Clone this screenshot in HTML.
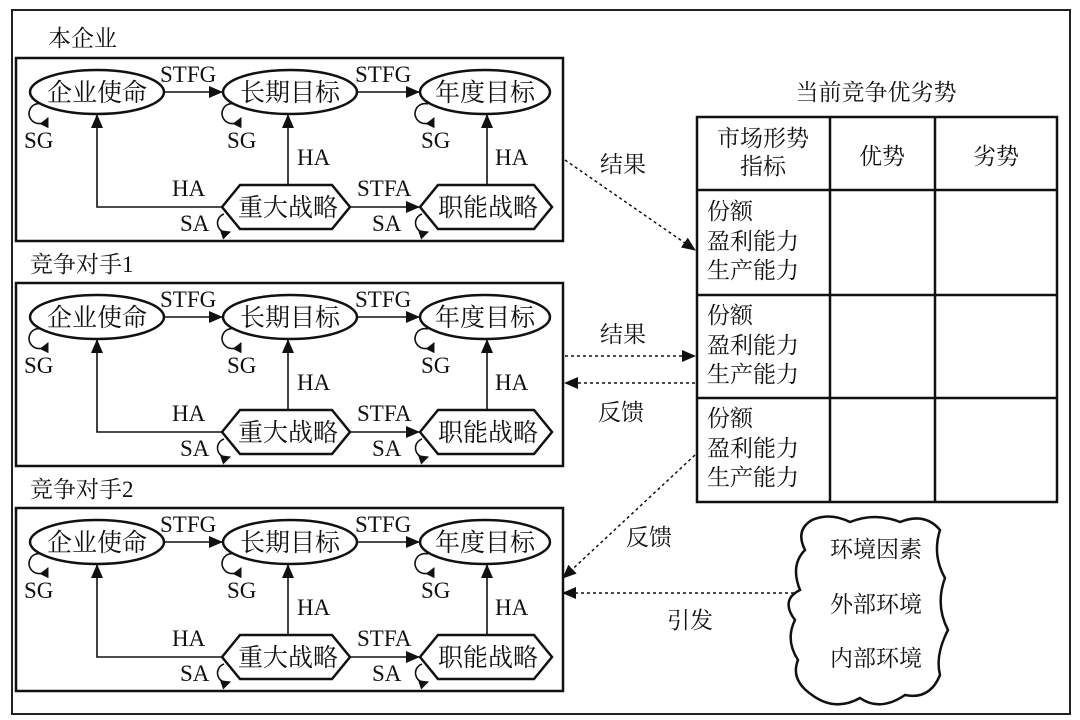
<!DOCTYPE html>
<html><head><meta charset="utf-8"><style>
body{margin:0;background:#fff}
svg{display:block}
text{font-family:"Liberation Serif","Noto Serif CJK SC",serif;fill:#111}
.c{font-family:"Liberation Serif","Noto Serif CJK SC",serif}
</style></head><body>
<svg width="1080" height="720" viewBox="0 0 1080 720" xmlns="http://www.w3.org/2000/svg">
<defs>
<marker id="a" markerWidth="10" markerHeight="10" refX="9" refY="5" orient="auto" markerUnits="userSpaceOnUse"><path d="M0,0 L10,5 L0,10 z" fill="#111"/></marker>
<marker id="b" markerWidth="14" markerHeight="12" refX="13" refY="6" orient="auto" markerUnits="userSpaceOnUse"><path d="M0,0 L14,6 L0,12 z" fill="#111"/></marker>
<g id="dummy"></g>
</defs>
<rect x="12" y="10" width="1058" height="704" fill="none" stroke="#222" stroke-width="2"/>
<text class="c" x="48" y="46" font-size="23">本企业</text>
<text class="c" x="30" y="272" font-size="23">竞争对手1</text>
<text class="c" x="30" y="497" font-size="23">竞争对手2</text>

<g>
<rect x="16" y="58" width="547" height="183" fill="none" stroke="#111" stroke-width="2.5"/>
<g fill="#fff" stroke="#111" stroke-width="2.5">
<ellipse cx="97" cy="92" rx="67" ry="22"/><ellipse cx="290" cy="92" rx="67" ry="22"/><ellipse cx="485" cy="92" rx="65" ry="22"/>
<polygon points="222,207 240,185 332,185 350,207 332,229 240,229"/>
<polygon points="420,207 438,185 534,185 552,207 534,229 438,229"/>
</g>
<g stroke="#111" stroke-width="1.6" fill="none">
<line x1="164" y1="92" x2="222" y2="92" marker-end="url(#b)"/>
<line x1="357" y1="92" x2="419" y2="92" marker-end="url(#b)"/>
<line x1="288" y1="185" x2="288" y2="115" marker-end="url(#b)"/>
<line x1="487" y1="185" x2="487" y2="115" marker-end="url(#b)"/>
<polyline points="222,207 97,207 97,115" marker-end="url(#b)"/>
<line x1="350" y1="207" x2="419" y2="207" marker-end="url(#b)"/>
<path d="M42,104 A10,10 0 1 0 48,118" marker-end="url(#a)"/>
<path d="M235,104 A10,10 0 1 0 241,118" marker-end="url(#a)"/>
<path d="M428,104 A10,10 0 1 0 434,118" marker-end="url(#a)"/>
<path d="M224,214 A9,9 0 1 0 230,232" marker-end="url(#a)"/>
<path d="M422,214 A9,9 0 1 0 428,232" marker-end="url(#a)"/>
</g>
<g font-size="25" text-anchor="middle">
<text x="97" y="101">企业使命</text><text x="290" y="101">长期目标</text><text x="485" y="101">年度目标</text>
<text x="288" y="216">重大战略</text><text x="488" y="216">职能战略</text>
</g>
<g font-size="23">
<text x="160" y="82">STFG</text><text x="355" y="82">STFG</text>
<text x="24" y="148">SG</text><text x="227" y="148">SG</text><text x="421" y="148">SG</text>
<text x="297" y="165">HA</text><text x="495" y="165">HA</text>
<text x="172" y="196">HA</text><text x="357" y="196">STFA</text>
<text x="180" y="231">SA</text><text x="372" y="231">SA</text>
</g>
</g>
<g transform="translate(0,225)">
<rect x="16" y="58" width="547" height="183" fill="none" stroke="#111" stroke-width="2.5"/>
<g fill="#fff" stroke="#111" stroke-width="2.5">
<ellipse cx="97" cy="92" rx="67" ry="22"/><ellipse cx="290" cy="92" rx="67" ry="22"/><ellipse cx="485" cy="92" rx="65" ry="22"/>
<polygon points="222,207 240,185 332,185 350,207 332,229 240,229"/>
<polygon points="420,207 438,185 534,185 552,207 534,229 438,229"/>
</g>
<g stroke="#111" stroke-width="1.6" fill="none">
<line x1="164" y1="92" x2="222" y2="92" marker-end="url(#b)"/>
<line x1="357" y1="92" x2="419" y2="92" marker-end="url(#b)"/>
<line x1="288" y1="185" x2="288" y2="115" marker-end="url(#b)"/>
<line x1="487" y1="185" x2="487" y2="115" marker-end="url(#b)"/>
<polyline points="222,207 97,207 97,115" marker-end="url(#b)"/>
<line x1="350" y1="207" x2="419" y2="207" marker-end="url(#b)"/>
<path d="M42,104 A10,10 0 1 0 48,118" marker-end="url(#a)"/>
<path d="M235,104 A10,10 0 1 0 241,118" marker-end="url(#a)"/>
<path d="M428,104 A10,10 0 1 0 434,118" marker-end="url(#a)"/>
<path d="M224,214 A9,9 0 1 0 230,232" marker-end="url(#a)"/>
<path d="M422,214 A9,9 0 1 0 428,232" marker-end="url(#a)"/>
</g>
<g font-size="25" text-anchor="middle">
<text x="97" y="101">企业使命</text><text x="290" y="101">长期目标</text><text x="485" y="101">年度目标</text>
<text x="288" y="216">重大战略</text><text x="488" y="216">职能战略</text>
</g>
<g font-size="23">
<text x="160" y="82">STFG</text><text x="355" y="82">STFG</text>
<text x="24" y="148">SG</text><text x="227" y="148">SG</text><text x="421" y="148">SG</text>
<text x="297" y="165">HA</text><text x="495" y="165">HA</text>
<text x="172" y="196">HA</text><text x="357" y="196">STFA</text>
<text x="180" y="231">SA</text><text x="372" y="231">SA</text>
</g>
</g>
<g transform="translate(0,450)">
<rect x="16" y="58" width="547" height="183" fill="none" stroke="#111" stroke-width="2.5"/>
<g fill="#fff" stroke="#111" stroke-width="2.5">
<ellipse cx="97" cy="92" rx="67" ry="22"/><ellipse cx="290" cy="92" rx="67" ry="22"/><ellipse cx="485" cy="92" rx="65" ry="22"/>
<polygon points="222,207 240,185 332,185 350,207 332,229 240,229"/>
<polygon points="420,207 438,185 534,185 552,207 534,229 438,229"/>
</g>
<g stroke="#111" stroke-width="1.6" fill="none">
<line x1="164" y1="92" x2="222" y2="92" marker-end="url(#b)"/>
<line x1="357" y1="92" x2="419" y2="92" marker-end="url(#b)"/>
<line x1="288" y1="185" x2="288" y2="115" marker-end="url(#b)"/>
<line x1="487" y1="185" x2="487" y2="115" marker-end="url(#b)"/>
<polyline points="222,207 97,207 97,115" marker-end="url(#b)"/>
<line x1="350" y1="207" x2="419" y2="207" marker-end="url(#b)"/>
<path d="M42,104 A10,10 0 1 0 48,118" marker-end="url(#a)"/>
<path d="M235,104 A10,10 0 1 0 241,118" marker-end="url(#a)"/>
<path d="M428,104 A10,10 0 1 0 434,118" marker-end="url(#a)"/>
<path d="M224,214 A9,9 0 1 0 230,232" marker-end="url(#a)"/>
<path d="M422,214 A9,9 0 1 0 428,232" marker-end="url(#a)"/>
</g>
<g font-size="25" text-anchor="middle">
<text x="97" y="101">企业使命</text><text x="290" y="101">长期目标</text><text x="485" y="101">年度目标</text>
<text x="288" y="216">重大战略</text><text x="488" y="216">职能战略</text>
</g>
<g font-size="23">
<text x="160" y="82">STFG</text><text x="355" y="82">STFG</text>
<text x="24" y="148">SG</text><text x="227" y="148">SG</text><text x="421" y="148">SG</text>
<text x="297" y="165">HA</text><text x="495" y="165">HA</text>
<text x="172" y="196">HA</text><text x="357" y="196">STFA</text>
<text x="180" y="231">SA</text><text x="372" y="231">SA</text>
</g>
</g>

<text x="876" y="100" font-size="23" text-anchor="middle">当前竞争优劣势</text>
<g stroke="#111" stroke-width="2.5" fill="none">
<rect x="697" y="117" width="360" height="385"/>
<line x1="830" y1="117" x2="830" y2="502"/>
<line x1="935" y1="117" x2="935" y2="502"/>
<line x1="697" y1="190" x2="1057" y2="190"/>
<line x1="697" y1="295" x2="1057" y2="295"/>
<line x1="697" y1="398" x2="1057" y2="398"/>
</g>
<g font-size="23">
<text x="763" y="146" text-anchor="middle">市场形势</text>
<text x="763" y="174" text-anchor="middle">指标</text>
<text x="882" y="164" text-anchor="middle">优势</text>
<text x="996" y="164" text-anchor="middle">劣势</text>
<text x="707" y="219">份额</text><text x="707" y="249">盈利能力</text><text x="707" y="278">生产能力</text>
<text x="707" y="323">份额</text><text x="707" y="353">盈利能力</text><text x="707" y="382">生产能力</text>
<text x="707" y="426">份额</text><text x="707" y="456">盈利能力</text><text x="707" y="485">生产能力</text>
</g>

<g stroke="#111" stroke-width="1.5" stroke-dasharray="3,3" fill="none">
<line x1="565" y1="160" x2="695" y2="250" marker-end="url(#b)"/>
<line x1="565" y1="356" x2="695" y2="356" marker-end="url(#b)"/>
<line x1="695" y1="383" x2="565" y2="383" marker-end="url(#b)"/>
<line x1="695" y1="455" x2="563" y2="578" marker-end="url(#b)"/>
<line x1="800" y1="593" x2="563" y2="593" marker-end="url(#b)"/>
</g>
<g font-size="23">
<text x="600" y="172">结果</text>
<text x="600" y="342">结果</text>
<text x="598" y="420">反馈</text>
<text x="626" y="545">反馈</text>
<text x="667" y="628">引发</text>
</g>

<path d="M812,520 Q830,512 850,522 Q875,512 900,522 Q925,512 940,530 Q932,555 945,578 Q935,605 948,630 Q935,655 940,675 Q930,700 905,695 Q880,712 860,698 Q835,712 812,695 Q790,680 798,660 Q785,640 795,620 Q780,600 800,590 Q790,565 805,550 Q795,530 812,520 Z" fill="#fff" stroke="#111" stroke-width="2.5"/>
<g font-size="23" text-anchor="middle">
<text x="876" y="557">环境因素</text>
<text x="876" y="612">外部环境</text>
<text x="876" y="666">内部环境</text>
</g>
</svg>
</body></html>
